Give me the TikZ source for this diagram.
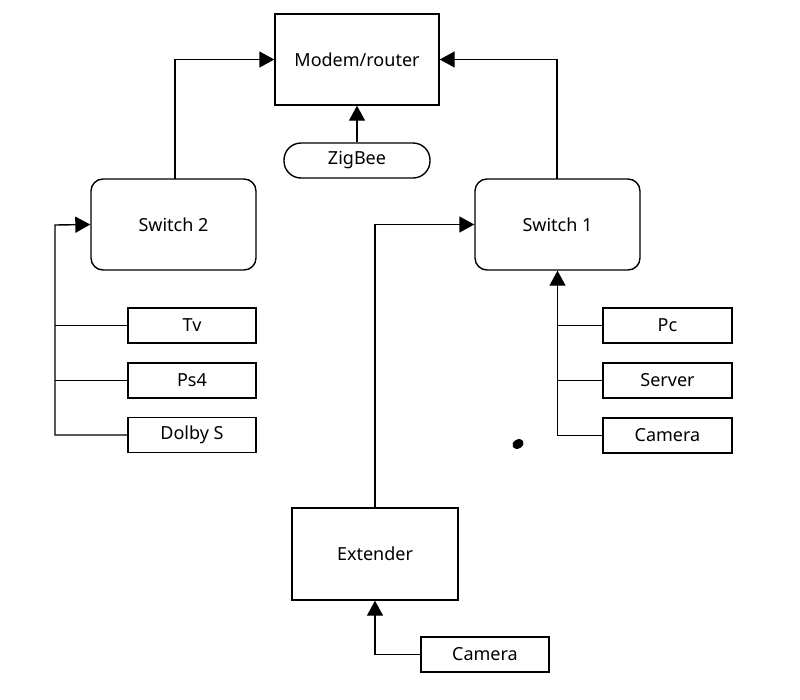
\documentclass[tikz,border=0pt]{standalone}
\usepackage{fontspec}
\setmainfont{Noto Sans}
\usetikzlibrary{arrows.meta}
\begin{document}
\begin{tikzpicture}[x=1pt,y=-1pt,
  box/.style={draw,line width=1.4pt,minimum width=#1,inner sep=0pt,font=\fontsize{18}{20}\selectfont},
  rbox/.style={box=#1,rounded corners=12pt},
  pill/.style={box=#1,rounded corners=17pt},
  con/.style={line width=1.4pt,-{Triangle[length=15pt,width=16pt]}},
  ln/.style={line width=1.4pt}]
\useasboundingbox (0,0) rectangle (800,699);
\node[box=164pt,minimum height=91pt] (modem) at (357,59.5) {Modem/router};
\node[pill=146pt,minimum height=35pt] (zig) at (357,160.5) {ZigBee};
\node[rbox=165pt,minimum height=91pt] (s2) at (173.5,224.5) {Switch 2};
\node[rbox=165pt,minimum height=91pt] (s1) at (557.5,224.5) {Switch 1};
\node[box=128pt,minimum height=35pt] (tv) at (192,325.5) {Tv};
\node[box=128pt,minimum height=35pt] (ps) at (192,380.5) {Ps4};
\node[box=128pt,minimum height=35pt] (dolby) at (192,435) {Dolby S};
\node[box=129pt,minimum height=35pt] (pc) at (667.5,325.5) {Pc};
\node[box=129pt,minimum height=35pt] (srv) at (667.5,380.5) {Server};
\node[box=129pt,minimum height=35pt] (cam1) at (667.5,435.5) {Camera};
\node[box=166pt,minimum height=92pt] (ext) at (375,554) {Extender};
\node[box=128pt,minimum height=35pt] (cam2) at (485,654.5) {Camera};
\coordinate (l) at (55,225);
\draw[con] (zig.north) -- (modem.south);
\draw[con] (175,179) |- (modem.west);
\draw[con] (557,179) |- (modem.east);
\draw[con] (dolby.west) -| (l) -- (s2.west);
\draw[ln] (tv.west) -- (55,325.5);
\draw[ln] (ps.west) -- (55,380.5);
\draw[con] (cam1.west) -| (s1.south);
\draw[ln] (pc.west) -- (557,325.5);
\draw[ln] (srv.west) -- (557,380.5);
\draw[con] (ext.north) |- (s1.west);
\draw[con] (cam2.west) -| (ext.south);
\fill[rotate around={30:(518,444)}] (518,444) ellipse (6pt and 4.5pt);
\end{tikzpicture}
\end{document}
